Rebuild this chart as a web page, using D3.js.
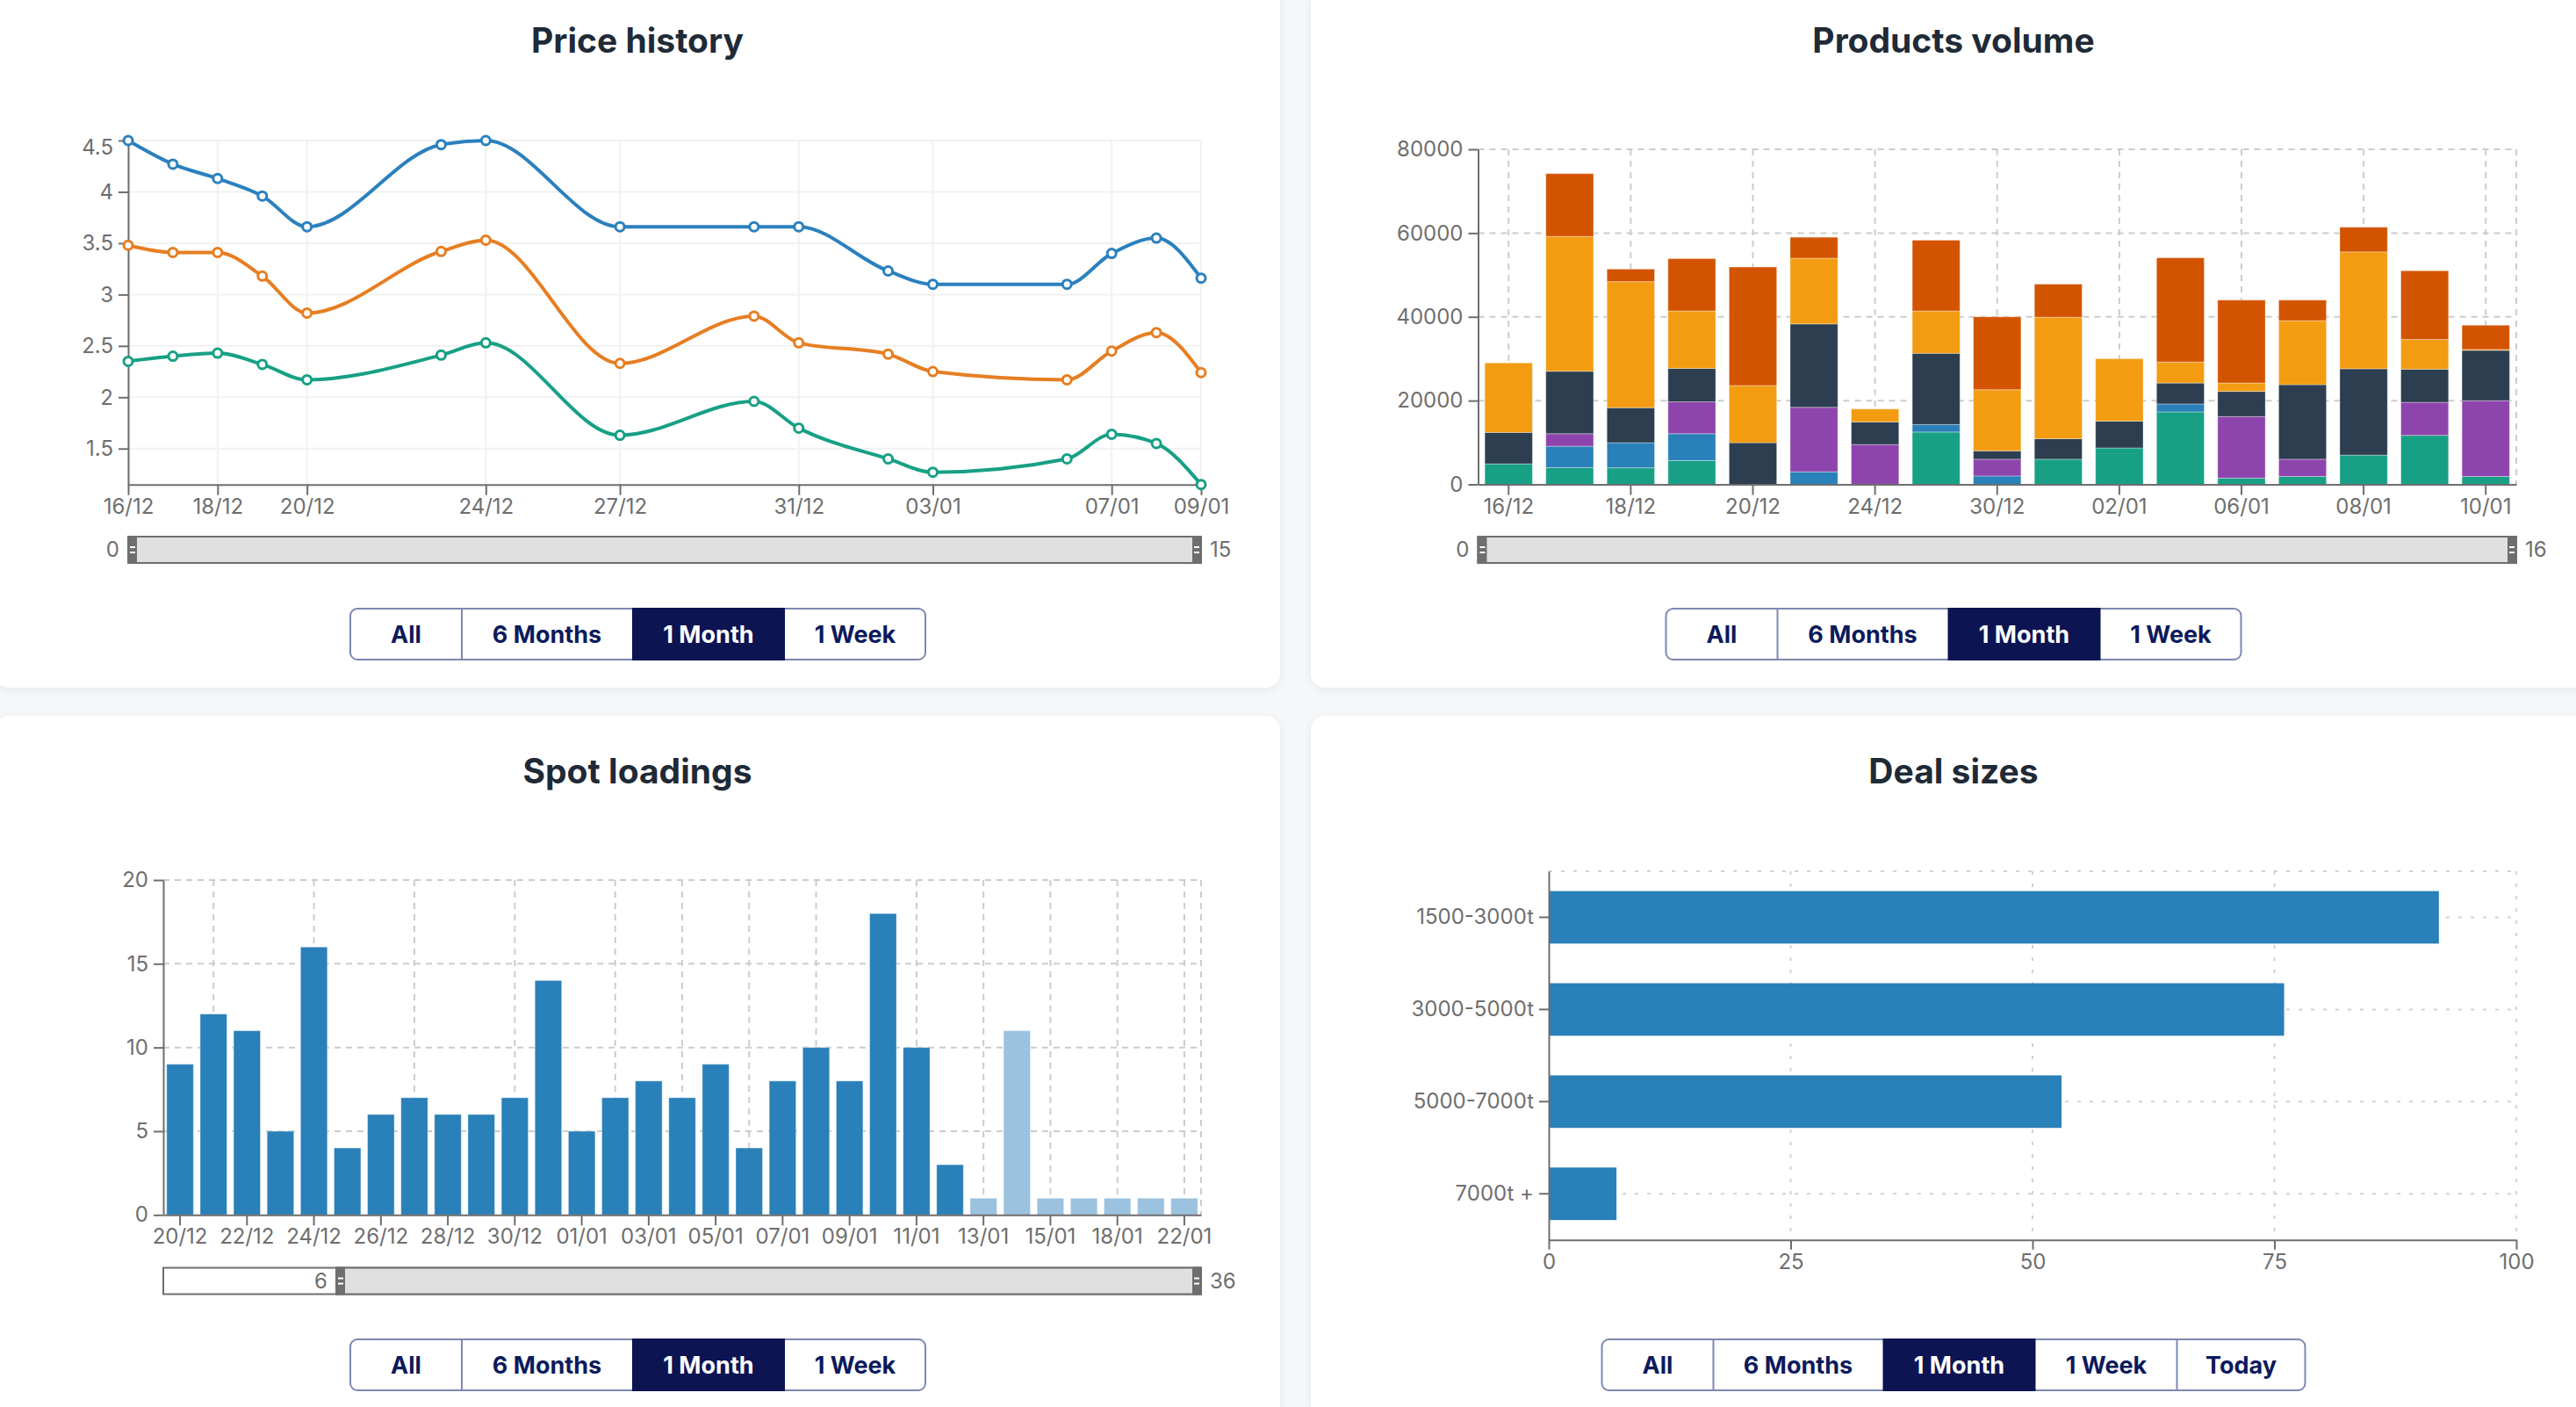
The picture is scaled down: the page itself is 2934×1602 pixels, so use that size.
<!DOCTYPE html>
<html>
<head>
<meta charset="utf-8">
<script src="https://cdn.jsdelivr.net/npm/d3@7"></script>
<style>
html, body { margin: 0; padding: 0; background: #f6f7f9; overflow: hidden; }
svg { display: block; font-family: Inter, "Noto Sans", sans-serif; }
</style>
</head>
<body>
<svg></svg>
<script>
// ---- data ----
const priceDates = ["2023-12-16","2023-12-17","2023-12-18","2023-12-19","2023-12-20","2023-12-23","2023-12-24",
  "2023-12-27","2023-12-30","2023-12-31","2024-01-02","2024-01-03","2024-01-06","2024-01-07","2024-01-08","2024-01-09"];
const priceTickDates = ["2023-12-16","2023-12-18","2023-12-20","2023-12-24","2023-12-27","2023-12-31","2024-01-03","2024-01-07","2024-01-09"];
const priceBlue   = [4.50, 4.27, 4.13, 3.96, 3.66, 4.46, 4.50, 3.66, 3.66, 3.66, 3.23, 3.10, 3.10, 3.40, 3.55, 3.16];
const priceOrange = [3.48, 3.41, 3.41, 3.18, 2.82, 3.42, 3.53, 2.33, 2.79, 2.53, 2.42, 2.25, 2.17, 2.45, 2.63, 2.24];
const priceGreen  = [2.35, 2.40, 2.43, 2.32, 2.17, 2.41, 2.53, 1.63, 1.96, 1.70, 1.40, 1.27, 1.40, 1.64, 1.55, 1.15];

const volDates = ["16/12","17/12","18/12","19/12","20/12","23/12","24/12","27/12","30/12","31/12",
  "02/01","03/01","06/01","07/01","08/01","09/01","10/01"];
const volA = [4900, 4000, 3950, 5700, 0, 0, 0, 12500, 0, 6000, 8700, 17300, 1500, 1900, 7000, 11700, 1900];
const volB = [0, 5100, 6000, 6400, 0, 3000, 0, 1800, 2000, 0, 0, 1900, 0, 0, 0, 0, 0];
const volC = [0, 3000, 0, 7600, 0, 15400, 9500, 0, 4000, 0, 0, 0, 14700, 4100, 0, 7900, 18100];
const volD = [7500, 14900, 8350, 8000, 9950, 19900, 5400, 17000, 2000, 4900, 6400, 5000, 6000, 17800, 20600, 7900, 12000];
const volE = [16600, 32200, 30100, 13700, 13650, 15700, 3100, 10100, 14600, 29000, 14900, 5000, 2000, 15300, 27900, 7100, 200];
const volF = [0, 15000, 3000, 12500, 28300, 5000, 0, 16900, 17400, 7900, 0, 24900, 19800, 4900, 5900, 16400, 5800];

const spotDates = ["20/12","21/12","22/12","23/12","24/12","25/12","26/12","27/12","28/12","29/12","30/12","31/12",
  "01/01","02/01","03/01","04/01","05/01","06/01","07/01","08/01","09/01","10/01","11/01","12/01",
  "13/01","14/01","15/01","16/01","18/01","20/01","22/01"];
const spotValues = [9,12,11,5,16,4,6,7,6,6,7,14,5,7,8,7,9,4,8,10,8,18,10,3,1,11,1,1,1,1,1];
const spotPlanned = [0,0,0,0,0,0,0,0,0,0,0,0,0,0,0,0,0,0,0,0,0,0,0,0,1,1,1,1,1,1,1];
const spotGridDates = ["21/12","24/12","27/12","30/12","02/01","04/01","06/01","08/01","11/01","13/01","15/01","18/01","22/01"];
const spotWindow = [6, 36];

const dealCats = ["1500-3000t","3000-5000t","5000-7000t","7000t +"];
const dealValues = [92, 76, 53, 7];
const dealTicks = [0, 25, 50, 75, 100];

const rangeButtons = ["All","6 Months","1 Month","1 Week"];
const rangeButtonsDeal = ["All","6 Months","1 Month","1 Week","Today"];

// ---- setup ----
const W = 2934, H = 1602;
const FONT = 'Inter, "Noto Sans", sans-serif';
const AX = "#6e6e6e";
const svg = d3.select("svg").attr("width", W).attr("height", H);

const defs = svg.append("defs");
const flt = defs.append("filter").attr("id", "shadow")
  .attr("x", "-5%").attr("y", "-5%").attr("width", "110%").attr("height", "110%");
flt.append("feDropShadow").attr("dx", 0).attr("dy", 2).attr("stdDeviation", 4)
  .attr("flood-color", "#000").attr("flood-opacity", 0.07);

const cards = [{x: -6, y: -17}, {x: 1493, y: -17}, {x: -6, y: 815}, {x: 1493, y: 815}];
const cardW = 1464, cardH = 800;
const titles = ["Price history", "Products volume", "Spot loadings", "Deal sizes"];

svg.append("g").selectAll("rect").data(cards).join("rect")
  .attr("x", d => d.x).attr("y", d => d.y)
  .attr("width", cardW).attr("height", cardH)
  .attr("rx", 16).attr("fill", "#fff").attr("filter", "url(#shadow)");

svg.append("g").selectAll("text").data(cards).join("text")
  .attr("x", d => d.x + cardW / 2).attr("y", d => d.y + 77)
  .attr("text-anchor", "middle")
  .attr("font-size", 39).attr("font-weight", 700).attr("fill", "#1f2a37")
  .text((d, i) => titles[i]);

function styleAxis(g) {
  g.attr("font-size", 24).attr("font-family", FONT);
  g.select(".domain").attr("stroke", AX).attr("stroke-width", 2);
  g.selectAll(".tick line").attr("stroke", AX).attr("stroke-width", 2);
  g.selectAll(".tick text").attr("fill", AX);
}

function slider(x0, x1, y, f0, f1, lab0, lab1) {
  const g = svg.append("g");
  const h = 30;
  const s0 = x0 + (x1 - x0) * f0, s1 = x0 + (x1 - x0) * f1;
  g.append("rect").attr("x", x0).attr("y", y).attr("width", x1 - x0).attr("height", h)
    .attr("fill", "#fff").attr("stroke", AX).attr("stroke-width", 2);
  g.append("rect").attr("x", s0).attr("y", y).attr("width", s1 - s0).attr("height", h)
    .attr("fill", "#e0e0e0").attr("stroke", AX).attr("stroke-width", 2);
  [s0, s1 - 10].forEach(hx => {
    g.append("rect").attr("x", hx).attr("y", y - 1).attr("width", 10).attr("height", h + 2).attr("fill", AX);
    g.append("rect").attr("x", hx + 2).attr("y", y + h / 2 - 4).attr("width", 6).attr("height", 2).attr("fill", "#fff");
    g.append("rect").attr("x", hx + 2).attr("y", y + h / 2 + 2).attr("width", 6).attr("height", 2).attr("fill", "#fff");
  });
  g.append("text").attr("x", s0 - 10).attr("y", y + h / 2).attr("dy", "0.35em")
    .attr("text-anchor", "end").attr("font-size", 24).attr("fill", AX).text(lab0);
  g.append("text").attr("x", s1 + 10).attr("y", y + h / 2).attr("dy", "0.35em")
    .attr("font-size", 24).attr("fill", AX).text(lab1);
}

function buttons(cx, y, labels, widths, active) {
  const g = svg.append("g");
  const h = 58, total = d3.sum(widths);
  let x = cx - total / 2;
  g.append("rect").attr("x", x).attr("y", y).attr("width", total).attr("height", h)
    .attr("rx", 8).attr("fill", "#fff").attr("stroke", "#7d88b1").attr("stroke-width", 2);
  labels.forEach((lab, i) => {
    const w = widths[i];
    if (i === active) {
      g.append("rect").attr("x", x).attr("y", y - 1).attr("width", w).attr("height", h + 2).attr("fill", "#0c1452");
    } else if (i > 0 && i - 1 !== active) {
      g.append("line").attr("x1", x).attr("x2", x).attr("y1", y).attr("y2", y + h)
        .attr("stroke", "#7d88b1").attr("stroke-width", 2);
    }
    g.append("text").attr("x", x + w / 2).attr("y", y + h / 2).attr("dy", "0.36em")
      .attr("text-anchor", "middle").attr("font-size", 27).attr("font-weight", 700)
      .attr("fill", i === active ? "#fff" : "#0c1a5c").text(lab);
    x += w;
  });
}

// ---- chart 1: price history ----
{
  const parse = d3.timeParse("%Y-%m-%d");
  const dates = priceDates.map(parse);
  const left = 146, right = 1368, top = 160, bottom = 551.7;
  const all = priceBlue.concat(priceOrange, priceGreen);
  const x = d3.scaleTime().domain(d3.extent(dates)).range([left, right]);
  const y = d3.scaleLinear().domain(d3.extent(all)).range([bottom, top]);
  const ticksX = priceTickDates.map(parse);
  const g = svg.append("g");

  g.append("g").selectAll("line").data(y.ticks(7)).join("line")
    .attr("x1", left).attr("x2", right).attr("y1", d => y(d)).attr("y2", d => y(d))
    .attr("stroke", "#f1f1f1").attr("stroke-width", 2);
  g.append("g").selectAll("line").data(ticksX).join("line")
    .attr("x1", d => x(d)).attr("x2", d => x(d)).attr("y1", top).attr("y2", bottom)
    .attr("stroke", "#f1f1f1").attr("stroke-width", 2);

  const yAxis = g.append("g").attr("transform", `translate(${left},0)`)
    .call(d3.axisLeft(y).ticks(7).tickFormat(d => String(d)).tickSize(11).tickPadding(6).tickSizeOuter(0))
    .call(styleAxis);
  // the top label sits a little below its tick, as in the source
  yAxis.selectAll(".tick").filter(d => d === y.domain()[1]).select("text").attr("dy", "0.65em");

  g.append("g").attr("transform", `translate(0,${bottom})`)
    .call(d3.axisBottom(x).tickValues(ticksX).tickFormat(d3.timeFormat("%d/%m")).tickSize(12).tickPadding(4).tickSizeOuter(0))
    .call(styleAxis);

  const series = [
    {values: priceBlue, color: "#2b80be"},
    {values: priceOrange, color: "#e67e22"},
    {values: priceGreen, color: "#17a085"}
  ];
  const line = d3.line().x((d, i) => x(dates[i])).y(d => y(d)).curve(d3.curveMonotoneX);
  series.forEach(s => {
    g.append("path").attr("d", line(s.values)).attr("fill", "none")
      .attr("stroke", s.color).attr("stroke-width", 4);
    g.append("g").selectAll("circle").data(s.values).join("circle")
      .attr("cx", (d, i) => x(dates[i])).attr("cy", d => y(d)).attr("r", 5)
      .attr("fill", "#fff").attr("stroke", s.color).attr("stroke-width", 3);
  });

  slider(left, right, 611, 0, 1, "0", String(priceDates.length - 1));
  buttons(726.5, 693, rangeButtons, [127, 194, 174, 160], 2);
}

// ---- chart 2: products volume ----
{
  const left = 1683.5, right = 2866, top = 170, bottom = 551.5;
  const keys = ["a", "b", "c", "d", "e", "f"];
  const colors = ["#17a085", "#2a80b9", "#8e44ad", "#2c3e50", "#f39c12", "#d35400"];
  const rows = volDates.map((d, i) => ({date: d, a: volA[i], b: volB[i], c: volC[i], d: volD[i], e: volE[i], f: volF[i]}));
  const stacked = d3.stack().keys(keys)(rows);
  const x = d3.scaleBand().domain(volDates).range([left, right]).paddingInner(0.22).paddingOuter(0.11);
  const y = d3.scaleLinear().domain([0, 80000]).range([bottom, top]);
  const tickCats = volDates.filter((d, i) => i % 2 === 0);
  const g = svg.append("g");

  g.append("g").selectAll("line").data(y.ticks(4).filter(d => d > 0)).join("line")
    .attr("x1", left).attr("x2", right).attr("y1", d => y(d)).attr("y2", d => y(d))
    .attr("stroke", "#cccccc").attr("stroke-width", 2).attr("stroke-dasharray", "7,6");
  g.append("g").selectAll("line").data(tickCats.map(d => x(d) + x.bandwidth() / 2).concat([right])).join("line")
    .attr("x1", d => d).attr("x2", d => d).attr("y1", top).attr("y2", bottom)
    .attr("stroke", "#cccccc").attr("stroke-width", 2).attr("stroke-dasharray", "7,6");

  g.append("g").selectAll("g").data(stacked).join("g")
    .attr("fill", (d, i) => colors[i])
    .selectAll("rect").data(d => d).join("rect")
    .attr("x", d => x(d.data.date)).attr("width", x.bandwidth())
    .attr("y", d => y(d[1])).attr("height", d => y(d[0]) - y(d[1]))
    .attr("stroke", "rgba(255,255,255,0.35)").attr("stroke-width", 1);

  g.append("g").attr("transform", `translate(${left},0)`)
    .call(d3.axisLeft(y).ticks(4).tickFormat(d3.format("d")).tickSize(11).tickPadding(6).tickSizeOuter(0))
    .call(styleAxis);
  g.append("g").attr("transform", `translate(0,${bottom})`)
    .call(d3.axisBottom(x).tickValues(tickCats).tickSize(12).tickPadding(4).tickSizeOuter(0))
    .call(styleAxis);

  slider(left, right, 611, 0, 1, "0", String(volDates.length - 1));
  buttons(2225, 693, rangeButtons, [127, 194, 174, 160], 2);
}

// ---- chart 3: spot loadings ----
{
  const left = 186, right = 1368, top = 1002, bottom = 1383.3;
  const x = d3.scaleBand().domain(spotDates).range([left, right]).paddingInner(0.2).paddingOuter(0.1);
  const y = d3.scaleLinear().domain([0, 20]).range([bottom, top]);
  const tickCats = spotDates.filter((d, i) => i % 2 === 0);
  const g = svg.append("g");

  g.append("g").selectAll("line").data(y.ticks(4).filter(d => d > 0)).join("line")
    .attr("x1", left).attr("x2", right).attr("y1", d => y(d)).attr("y2", d => y(d))
    .attr("stroke", "#cccccc").attr("stroke-width", 2).attr("stroke-dasharray", "7,6");
  g.append("g").selectAll("line").data(spotGridDates.map(d => x(d) + x.bandwidth() / 2).concat([right])).join("line")
    .attr("x1", d => d).attr("x2", d => d).attr("y1", top).attr("y2", bottom)
    .attr("stroke", "#cccccc").attr("stroke-width", 2).attr("stroke-dasharray", "7,6");

  g.append("g").selectAll("rect").data(spotValues).join("rect")
    .attr("x", (d, i) => x(spotDates[i])).attr("width", x.bandwidth())
    .attr("y", d => y(d)).attr("height", d => bottom - y(d))
    .attr("fill", (d, i) => spotPlanned[i] ? "#9bc2df" : "#2a80b9")
    .attr("stroke", "rgba(255,255,255,0.4)").attr("stroke-width", 1);

  g.append("g").attr("transform", `translate(${left},0)`)
    .call(d3.axisLeft(y).ticks(4).tickSize(11).tickPadding(6).tickSizeOuter(0))
    .call(styleAxis);
  g.append("g").attr("transform", `translate(0,${bottom})`)
    .call(d3.axisBottom(x).tickValues(tickCats).tickSize(12).tickPadding(4).tickSizeOuter(0))
    .call(styleAxis);

  slider(left, right, 1443.5, spotWindow[0] / spotWindow[1], 1, String(spotWindow[0]), String(spotWindow[1]));
  buttons(726.5, 1525, rangeButtons, [127, 194, 174, 160], 2);
}

// ---- chart 4: deal sizes ----
{
  const left = 1764, right = 2866, top = 992, bottom = 1411.7;
  const x = d3.scaleLinear().domain([0, 100]).range([left, right]);
  const y = d3.scaleBand().domain(dealCats).range([top, bottom]).paddingInner(0.43).paddingOuter(0.215);
  const g = svg.append("g");

  g.append("g").selectAll("line").data(dealCats.map(d => y(d) + y.bandwidth() / 2).concat([top])).join("line")
    .attr("x1", left).attr("x2", right).attr("y1", d => d).attr("y2", d => d)
    .attr("stroke", "#d2d2d2").attr("stroke-width", 2).attr("stroke-dasharray", "4,10");
  g.append("g").selectAll("line").data(dealTicks.filter(d => d > 0)).join("line")
    .attr("x1", d => x(d)).attr("x2", d => x(d)).attr("y1", top).attr("y2", bottom)
    .attr("stroke", "#d2d2d2").attr("stroke-width", 2).attr("stroke-dasharray", "4,10");

  g.append("g").selectAll("rect").data(dealValues).join("rect")
    .attr("x", left).attr("y", (d, i) => y(dealCats[i]))
    .attr("width", d => x(d) - left).attr("height", y.bandwidth())
    .attr("fill", "#2a80b9");

  g.append("g").attr("transform", `translate(${left},0)`)
    .call(d3.axisLeft(y).tickSize(11).tickPadding(6).tickSizeOuter(0))
    .call(styleAxis);
  g.append("g").attr("transform", `translate(0,${bottom})`)
    .call(d3.axisBottom(x).tickValues(dealTicks).tickSize(11).tickPadding(5).tickSizeOuter(0))
    .call(styleAxis);

  buttons(2225, 1525, rangeButtonsDeal, [127, 193, 174, 161, 146], 2);
}
</script>
</body>
</html>
